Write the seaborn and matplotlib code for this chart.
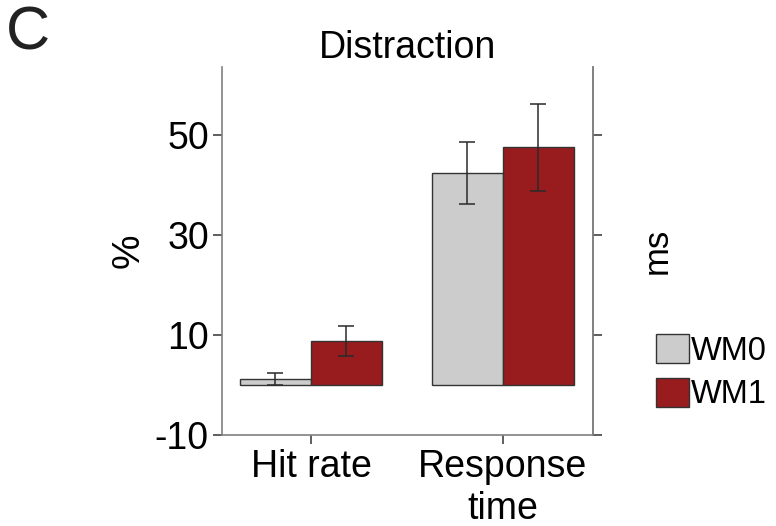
import matplotlib
matplotlib.use("Agg")
import matplotlib.pyplot as plt
import seaborn as sns
import pandas as pd
import numpy as np

# Data
categories = ["Hit rate", "Response\ntime"]
groups = ["WM0", "WM1"]
wm0_values = [1.1, 42.4]
wm1_values = [8.7, 47.5]
wm0_err = [1.2, 6.2]
wm1_err = [3.0, 8.7]
yticks = [-10, 10, 30, 50]
colors = {"WM0": "#CCCCCC", "WM1": "#981B1E"}

df = pd.DataFrame({
    "category": categories * 2,
    "group": [groups[0]] * 2 + [groups[1]] * 2,
    "value": wm0_values + wm1_values,
    "err": wm0_err + wm1_err,
})

sns.set_theme(style="white")
plt.rcParams["font.family"] = ["Liberation Sans", "DejaVu Sans"]
plt.rcParams["text.color"] = "black"
plt.rcParams["axes.labelcolor"] = "black"
plt.rcParams["xtick.color"] = "black"
plt.rcParams["ytick.color"] = "black"

fig = plt.figure(figsize=(7.76, 5.26), dpi=100)
ax = fig.add_axes([0.2861, 0.1736, 0.4785, 0.6996])

sns.barplot(data=df, x="category", y="value", hue="group", order=categories,
            hue_order=groups, palette=colors, width=0.74, errorbar=None,
            saturation=1, edgecolor="#333333", linewidth=1.0, ax=ax, legend=True)

errs = wm0_err + wm1_err
vals = wm0_values + wm1_values
for p, e, v in zip(ax.patches[:4], errs, vals):
    xc = p.get_x() + p.get_width() / 2
    ax.errorbar(xc, v, yerr=e, fmt="none", ecolor="#2a2a2a", elinewidth=1.1,
                capsize=6, capthick=1.1, zorder=5)

ax.set_ylim(-10, 63.6)
ax.set_xlim(-0.464, 1.473)
ax.set_yticks(yticks)
ax.set_yticklabels([str(t) for t in yticks], fontsize=27)
ax.tick_params(axis="x", labelsize=27, length=6.5, width=1.1, color="#333333",
               labelcolor="black", direction="out", bottom=True, pad=4)
ax.tick_params(axis="y", length=6.5, width=1.1, color="#333333",
               labelcolor="black", direction="out", left=True, pad=3)
ax.set_xlabel("")
ax.set_ylabel("%", fontsize=28, labelpad=6, color="black")
ax.set_title("Distraction", fontsize=27, pad=6, color="black")

for s in ["left", "bottom", "right"]:
    ax.spines[s].set_color("#808080")
    ax.spines[s].set_linewidth(1.2)
ax.spines["top"].set_visible(False)

ax2 = ax.twinx()
ax2.set_ylim(-10, 63.6)
ax2.set_yticks(yticks)
ax2.set_yticklabels([])
ax2.tick_params(axis="y", length=6.5, width=1.1, color="#333333",
                direction="out", right=True)
ax2.set_ylabel("ms", fontsize=25, labelpad=24, color="black")
for s in ["left", "bottom", "top"]:
    ax2.spines[s].set_visible(False)
ax2.spines["right"].set_color("#808080")
ax2.spines["right"].set_linewidth(1.2)

# legend
handles, labels = ax.get_legend_handles_labels()
if ax.legend_:
    ax.legend_.remove()
leg = fig.legend(handles, labels, loc="upper left",
                 bbox_to_anchor=(656 / 776, 1 - 334 / 526),
                 frameon=False, fontsize=23.5, handlelength=1.0, handleheight=1.0,
                 handletextpad=0.08, labelspacing=0.33, borderpad=0, borderaxespad=0)
for t in leg.get_texts():
    t.set_color("black")

fig.text(6 / 776, 1 - 6 / 526, "C", fontsize=44, ha="left", va="top", color="#222222")

fig.savefig("out.png", dpi=100)
